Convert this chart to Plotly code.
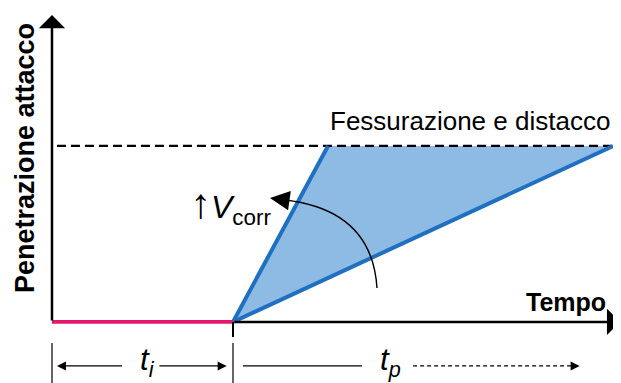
import plotly.graph_objects as go

# ---- data (conceptual units) ----
t_initiation = 2.0            # end of initiation phase t_i
fast_time = [2.0, 3.05]       # high corrosion rate: time
fast_pen = [0.0, 1.0]         # high corrosion rate: penetration
slow_time = [2.0, 6.2]        # low corrosion rate: time
slow_pen = [0.0, 1.0]
init_time = [0.0, 2.0]
init_pen = [0.0, 0.0]
threshold = 1.0               # "Fessurazione e distacco"
x_axis_end = 6.287
y_axis_end = 1.744

ylabel = "Penetrazione attacco"
xlabel = "Tempo"
threshold_label = "Fessurazione e distacco"

BLUE = "#1f70c1"
FILL = "#8dbbe3"
PINK = "#e2186b"
FONT = "Liberation Sans, Arial, sans-serif"

fig = go.Figure()

# shaded propagation region
fig.add_trace(go.Scatter(
    x=[fast_time[0], fast_time[1], slow_time[1], slow_time[0]],
    y=[fast_pen[0], fast_pen[1], slow_pen[1], slow_pen[0]],
    fill="toself", fillcolor=FILL, mode="none", hoverinfo="skip"))

# threshold dashed line
fig.add_trace(go.Scatter(
    x=[0.055, slow_time[1]], y=[threshold, threshold], mode="lines",
    line=dict(color="black", width=2.3, dash="9px,5px"), hoverinfo="skip"))

# rate lines
fig.add_trace(go.Scatter(x=fast_time, y=fast_pen, mode="lines",
                         line=dict(color=BLUE, width=4), hoverinfo="skip"))
fig.add_trace(go.Scatter(x=slow_time, y=slow_pen, mode="lines",
                         line=dict(color=BLUE, width=4), hoverinfo="skip"))

anns = []
shapes = []

def arrow(x0, y0, x1, y1, width, size, head=2):
    anns.append(dict(x=x1, y=y1, ax=x0, ay=y0, xref="x", yref="y",
                     axref="x", ayref="y", text="", showarrow=True,
                     arrowhead=head, arrowwidth=width, arrowsize=size,
                     arrowcolor="black", standoff=0, startstandoff=0))

# axes
arrow(0, 0, 0, y_axis_end, 2.5, 1.75, head=1)
arrow(t_initiation, 0, x_axis_end - 0.01, 0, 2.5, 1.75, head=1)

# initiation (pink) line
fig.add_trace(go.Scatter(x=init_time, y=init_pen, mode="lines",
                         line=dict(color=PINK, width=3.8), hoverinfo="skip"))

# V_corr arc
shapes.append(dict(type="path", xref="x", yref="y",
                   path="M 3.591,0.193 Q 3.536,0.636 2.575,0.693",
                   line=dict(color="black", width=1.4)))
arrow(2.575, 0.693, 2.409, 0.705, 1.4, 2.8, head=2)

# dimension lines under the time axis
ybot = -0.347
ydim = -0.25
shapes.append(dict(type="line", xref="x", yref="y", x0=0, x1=0, y0=-0.12, y1=ybot,
                   line=dict(color="black", width=1.2)))
shapes.append(dict(type="line", xref="x", yref="y", x0=t_initiation, x1=t_initiation,
                   y0=-0.12, y1=ybot, line=dict(color="black", width=1.2)))
shapes.append(dict(type="line", xref="x", yref="y", x0=t_initiation, x1=t_initiation,
                   y0=0, y1=-0.085, line=dict(color="black", width=2)))
arrow(t_initiation / 2 - 0.21, ydim, 0.055, ydim, 1.2, 1.5)
arrow(t_initiation / 2 + 0.17, ydim, t_initiation - 0.07, ydim, 1.2, 1.5)
shapes.append(dict(type="line", xref="x", yref="y", x0=t_initiation + 0.11, x1=3.425,
                   y0=ydim, y1=ydim, line=dict(color="black", width=1.2)))
shapes.append(dict(type="line", xref="x", yref="y", x0=3.99, x1=5.75,
                   y0=ydim, y1=ydim, line=dict(color="black", width=1.2, dash="4px,3px")))
arrow(5.74, ydim, 5.83, ydim, 1.2, 1.5)

# texts
anns.append(dict(x=-0.30, y=0.93, xref="x", yref="y", text=f"<b>{ylabel}</b>",
                 textangle=-90, showarrow=False, font=dict(family=FONT, size=27, color="black")))
anns.append(dict(x=5.68, y=0.115, xref="x", yref="y", text=f"<b>{xlabel}</b>",
                 showarrow=False, font=dict(family=FONT, size=25, color="black")))
anns.append(dict(x=6.19, y=1.14, xref="x", yref="y", text=threshold_label, xanchor="right",
                 showarrow=False, font=dict(family=FONT, size=26, color="black")))
anns.append(dict(x=1.50, y=0.665, xref="x", yref="y", xanchor="left",
                 text="<span style='font-size:42px'>↑</span><i>V</i><sub>corr</sub>",
                 showarrow=False, font=dict(family=FONT, size=32, color="black")))
anns.append(dict(x=1.05, y=-0.225, xref="x", yref="y",
                 text="<i>t</i><sub><i>i</i></sub>",
                 showarrow=False, font=dict(family=FONT, size=31, color="black")))
anns.append(dict(x=3.735, y=-0.225, xref="x", yref="y",
                 text="<i>t</i><sub><i>p</i></sub>",
                 showarrow=False, font=dict(family=FONT, size=31, color="black")))

# page has an 8px body margin: size and ranges compensate so marks land correctly
fig.update_layout(
    width=613, height=375, margin=dict(l=0, r=0, t=0, b=0),
    paper_bgcolor="white", plot_bgcolor="white", showlegend=False,
    xaxis=dict(range=[-0.486, 6.287], visible=False, fixedrange=True),
    yaxis=dict(range=[-0.347, 1.784], visible=False, fixedrange=True),
    annotations=anns, shapes=shapes,
)
fig.write_html("out.html")
